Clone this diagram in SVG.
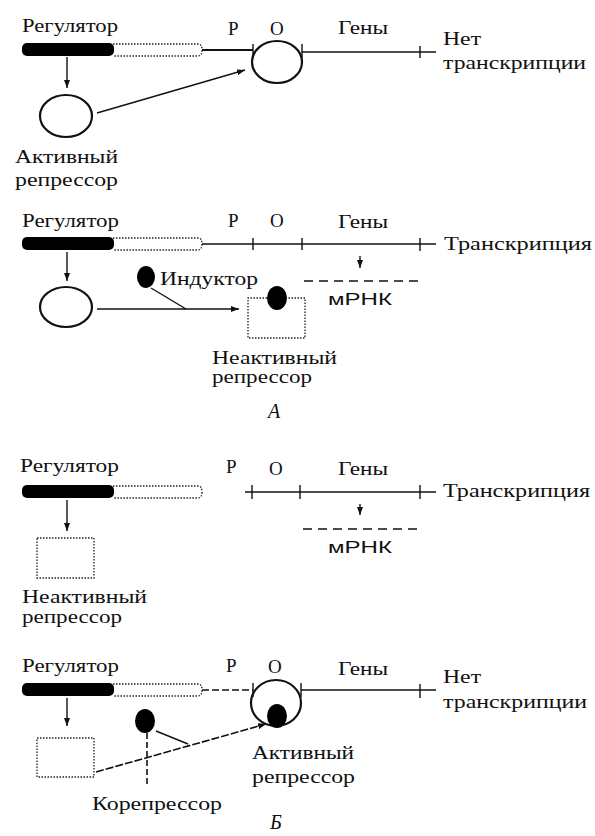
<svg xmlns="http://www.w3.org/2000/svg" width="595" height="836" viewBox="0 0 595 836">
<defs>
<style>
.t{font-family:"Liberation Serif","Times New Roman",serif;font-size:19px;fill:#111}
.s{font-family:"Liberation Sans",Arial,sans-serif;font-size:17px;fill:#111}
.i{font-family:"Liberation Serif","Times New Roman",serif;font-size:20px;font-style:italic;fill:#111}
.ln{stroke:#111;stroke-width:1.4;fill:none}
.thk{stroke:#111;stroke-width:2.2;fill:none}
.dot{stroke:#222;stroke-width:1.3;stroke-dasharray:1.5 1.5;fill:none}
.dash{stroke:#111;stroke-width:1.6;stroke-dasharray:9 6;fill:none}
.bar{fill:#000}
.blob{fill:#000}
</style>
<marker id="ah" viewBox="0 0 8 6" refX="8" refY="3" markerWidth="8" markerHeight="6" markerUnits="userSpaceOnUse" orient="auto"><path d="M0,0 L8,3 L0,6 z" fill="#111"/></marker>
</defs>
<rect width="595" height="836" fill="#fff"/>

<!-- Panel A1 -->
<g id="a1-regulator">
<text class="t" x="22" y="32" textLength="96" lengthAdjust="spacingAndGlyphs">Регулятор</text>
<rect class="bar" x="22" y="43" width="92" height="13" rx="5"/>
<path class="dot" d="M113,44 H198 Q202,44 202,50 Q202,56 198,56 H113"/>
</g>
<g id="a1-operon">
<text class="t" x="228" y="35">P</text>
<text class="t" x="270" y="35">O</text>
<text class="t" x="338" y="34" textLength="50" lengthAdjust="spacingAndGlyphs">Гены</text>
<ellipse class="thk" cx="277" cy="62" rx="25" ry="21"/>
<path class="ln" d="M302,52 H436 M253,44 V58 M302,44 V58 M420,46 V58"/>
</g>
<g id="a1-result">
<text class="t" x="443" y="45" textLength="38" lengthAdjust="spacingAndGlyphs">Нет</text>
<text class="t" x="443" y="69" textLength="143" lengthAdjust="spacingAndGlyphs">транскрипции</text>
</g>
<g id="a1-repressor">
<ellipse class="thk" cx="66" cy="116" rx="26" ry="21"/>
<text class="t" x="15" y="163" textLength="103" lengthAdjust="spacingAndGlyphs">Активный</text>
<text class="t" x="15" y="186" textLength="103" lengthAdjust="spacingAndGlyphs">репрессор</text>
</g>

<!-- Panel A2 -->
<g id="a2-regulator">
<text class="t" x="22" y="227" textLength="97" lengthAdjust="spacingAndGlyphs">Регулятор</text>
<rect class="bar" x="22" y="237" width="92" height="13" rx="5"/>
<path class="dot" d="M113,238 H198 Q202,238 202,244 Q202,250 198,250 H113"/>
</g>
<g id="a2-operon">
<text class="t" x="228" y="227">P</text>
<text class="t" x="270" y="227">O</text>
<text class="t" x="338" y="228" textLength="50" lengthAdjust="spacingAndGlyphs">Гены</text>
<path class="ln" d="M202,244 H436 M253,238 V250 M302,238 V250 M420,238 V251"/>
</g>
<g id="a2-result">
<text class="t" x="444" y="250" textLength="148" lengthAdjust="spacingAndGlyphs">Транскрипция</text>
</g>
<g id="a2-mrna">
<path class="dash" d="M304,281 H420"/>
<text class="s" x="328" y="305" textLength="64" lengthAdjust="spacingAndGlyphs">мРНК</text>
</g>
<g id="a2-repressor">
<ellipse class="thk" cx="66" cy="307" rx="26" ry="20"/>
</g>
<g id="a2-inductor">
<ellipse class="blob" cx="146" cy="277" rx="9" ry="11"/>
<text class="t" x="160" y="285" textLength="98" lengthAdjust="spacingAndGlyphs">Индуктор</text>
</g>
<g id="a2-inactive">
<path class="dot" d="M267,298 H248 V338 H305 V298 H288"/>
<ellipse class="blob" cx="277" cy="298" rx="10" ry="12"/>
<text class="t" x="212" y="364" textLength="125" lengthAdjust="spacingAndGlyphs">Неактивный</text>
<text class="t" x="212" y="383" textLength="100" lengthAdjust="spacingAndGlyphs">репрессор</text>
</g>
<text id="label-a" class="i" x="268" y="418">А</text>

<!-- Panel B1 -->
<g id="b1-regulator">
<text class="t" x="20" y="472" textLength="99" lengthAdjust="spacingAndGlyphs">Регулятор</text>
<rect class="bar" x="22" y="485" width="92" height="13" rx="5"/>
<path class="dot" d="M113,486 H198 Q202,486 202,492 Q202,498 198,498 H113"/>
</g>
<g id="b1-operon">
<text class="t" x="226" y="473">P</text>
<text class="t" x="269" y="475">O</text>
<text class="t" x="338" y="475" textLength="50" lengthAdjust="spacingAndGlyphs">Гены</text>
<path class="ln" d="M245,492 H436 M252,485 V499 M300,485 V499 M420,485 V499"/>
</g>
<g id="b1-result">
<text class="t" x="443" y="497" textLength="147" lengthAdjust="spacingAndGlyphs">Транскрипция</text>
</g>
<g id="b1-mrna">
<path class="dash" d="M303,529 H420"/>
<text class="s" x="328" y="553" textLength="64" lengthAdjust="spacingAndGlyphs">мРНК</text>
</g>
<g id="b1-inactive">
<rect class="dot" x="37" y="538" width="57" height="40"/>
<text class="t" x="22" y="603" textLength="125" lengthAdjust="spacingAndGlyphs">Неактивный</text>
<text class="t" x="22" y="623" textLength="100" lengthAdjust="spacingAndGlyphs">репрессор</text>
</g>

<!-- Panel B2 -->
<g id="b2-regulator">
<text class="t" x="22" y="672" textLength="97" lengthAdjust="spacingAndGlyphs">Регулятор</text>
<rect class="bar" x="22" y="683" width="92" height="13" rx="5"/>
<path class="dot" d="M113,684 H198 Q202,684 202,690 Q202,696 198,696 H113"/>
</g>
<g id="b2-operon">
<text class="t" x="226" y="672">P</text>
<text class="t" x="268" y="673">O</text>
<text class="t" x="338" y="675" textLength="50" lengthAdjust="spacingAndGlyphs">Гены</text>
<ellipse class="thk" cx="276" cy="703" rx="25" ry="23"/>
<path class="ln" d="M301,690 H436 M253,683 V697 M301,683 V697 M420,684 V698"/>
</g>
<g id="b2-active">
<ellipse class="blob" cx="277" cy="716" rx="10" ry="12"/>
<text class="t" x="252" y="759" textLength="102" lengthAdjust="spacingAndGlyphs">Активный</text>
<text class="t" x="252" y="783" textLength="103" lengthAdjust="spacingAndGlyphs">репрессор</text>
</g>
<g id="b2-result">
<text class="t" x="443" y="683" textLength="38" lengthAdjust="spacingAndGlyphs">Нет</text>
<text class="t" x="443" y="708" textLength="144" lengthAdjust="spacingAndGlyphs">транскрипции</text>
</g>
<g id="b2-inactive">
<rect class="dot" x="37" y="738" width="57" height="39"/>
</g>
<g id="b2-corepressor">
<ellipse class="blob" cx="145" cy="721" rx="10" ry="12"/>
<text class="t" x="92" y="810" textLength="130" lengthAdjust="spacingAndGlyphs">Корепрессор</text>
</g>
<text id="label-b" class="i" x="270" y="829">Б</text>

<!-- Connectors -->
<g id="connectors">
<path d="M202,50 H253" stroke="#111" stroke-width="2.2" fill="none"/>
<path class="ln" d="M67,57 V88" marker-end="url(#ah)"/>
<path class="ln" d="M97,113 L245,70" marker-end="url(#ah)"/>
<path class="ln" d="M67,252 V281" marker-end="url(#ah)"/>
<path class="ln" d="M360,256 V268" marker-end="url(#ah)"/>
<path class="ln" d="M97,309 H239" stroke-width="1.8" marker-end="url(#ah)"/>
<path class="ln" d="M151,288 L186,309"/>
<path class="ln" d="M67,500 V531" marker-end="url(#ah)"/>
<path class="ln" d="M360,504 V515" marker-end="url(#ah)"/>
<path d="M202,690 H253" stroke="#111" stroke-width="1.6" stroke-dasharray="7 3" fill="none"/>
<path class="ln" d="M67,698 V726" marker-end="url(#ah)"/>
<path d="M147,733 V787" stroke="#111" stroke-width="1.6" stroke-dasharray="6 3" fill="none"/>
<path class="ln" d="M156,731 L188,744"/>
<path d="M96,772 L266,724" stroke="#111" stroke-width="1.6" stroke-dasharray="8 2" fill="none" marker-end="url(#ah)"/>
</g>
</svg>
